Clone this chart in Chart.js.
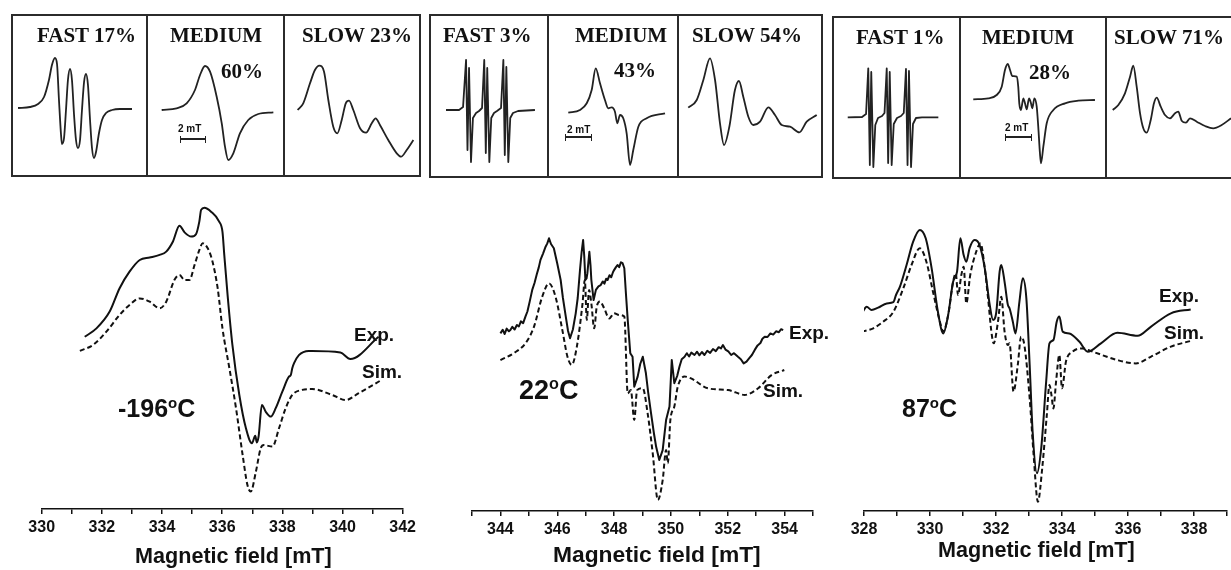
<!DOCTYPE html>
<html><head><meta charset="utf-8">
<script src="https://cdn.jsdelivr.net/npm/chart.js@4.4.1/dist/chart.umd.min.js"></script>
<style>
html,body{margin:0;padding:0;background:#fff;}
#wrap{position:relative;width:1231px;height:570px;overflow:hidden;background:#fff;}
canvas{position:absolute;}
.t{position:absolute;white-space:nowrap;color:#111;}
.serif{font-family:'Liberation Serif','Times New Roman',serif;font-weight:bold;font-size:21px;}
.sans{font-family:'Liberation Sans',Arial,sans-serif;font-weight:bold;}
.box{position:absolute;border:2px solid #2b2b2b;box-sizing:border-box;}
.vdiv{position:absolute;width:2px;background:#2b2b2b;}
.bar{position:absolute;height:7px;box-sizing:border-box;border-left:1.5px solid #222;border-right:1.5px solid #222;}
.bar::after{content:"";position:absolute;left:0;right:0;top:2.5px;height:1.6px;background:#222;}
sup{font-size:0.6em;vertical-align:0;position:relative;top:-0.6em;}
</style>
</head>
<body>
<div id="wrap"></div>
<script>
// ---------------- DATA ----------------
// main panels: [field (mT), intensity (a.u.)]
const axisMin = [330, 343, 328];
const axisMax = [342, 355, 339];
const axisTitle = 'Magnetic field [mT]';
const tempLabels = ['-196', '22', '87'];

const exp196 = [[331.43,57.4],[331.82,60.2],[332.26,65.8],[332.59,73.6],[332.92,79.1],[333.26,83.0],[333.59,83.8],[333.92,84.7],[334.14,85.8],[334.36,89.1],[334.58,94.4],[334.75,92.2],[334.97,90.8],[335.13,91.6],[335.24,95.8],[335.30,99.7],[335.41,100.4],[335.63,99.1],[335.90,95.8],[336.01,92.4],[336.07,84.7],[336.18,71.3],[336.34,54.7],[336.57,38.0],[336.79,26.9],[336.99,21.9],[337.10,24.4],[337.15,22.2],[337.21,24.1],[337.32,34.7],[337.45,32.4],[337.62,30.8],[337.78,33.6],[338.00,39.1],[338.22,44.1],[338.28,44.6],[338.33,46.9],[338.39,48.6],[338.55,51.3],[338.88,52.7],[338.99,52.7],[339.93,52.2],[340.26,50.0],[341.20,57.4]];
const sim196 = [[331.27,52.7],[331.71,54.7],[332.15,59.1],[332.59,64.7],[332.92,68.0],[333.26,70.2],[333.59,69.1],[333.92,66.9],[334.14,69.1],[334.41,76.3],[334.58,78.0],[334.75,76.3],[334.91,76.3],[335.08,81.3],[335.24,86.3],[335.35,88.6],[335.52,86.9],[335.68,82.4],[335.85,73.6],[336.01,60.2],[336.24,46.9],[336.46,33.6],[336.68,18.0],[336.84,8.0],[336.95,5.8],[337.12,12.4],[337.28,20.2],[337.39,21.3],[337.67,20.8],[337.89,26.9],[338.11,33.6],[338.33,38.0],[338.66,39.7],[338.99,40.0],[339.66,38.0],[340.10,36.3],[340.54,38.6],[341.26,42.8]];

const exp22 = [[344.00,59.2],[344.08,60.4],[344.15,59.0],[344.22,60.8],[344.30,59.9],[344.35,60.3],[344.42,61.4],[344.50,60.5],[344.58,62.0],[344.65,61.5],[344.72,63.2],[344.80,62.6],[344.88,64.8],[344.95,66.5],[345.03,69.8],[345.12,73.7],[345.20,76.0],[345.28,78.9],[345.35,81.2],[345.41,83.7],[345.50,85.8],[345.59,88.1],[345.65,89.2],[345.71,90.9],[345.78,89.0],[345.88,87.6],[346.00,82.5],[346.12,77.0],[346.20,71.0],[346.30,64.8],[346.38,60.0],[346.45,57.6],[346.55,60.5],[346.65,65.9],[346.72,71.0],[346.80,80.3],[346.86,86.5],[346.91,90.3],[346.95,85.0],[346.99,77.0],[347.03,77.5],[347.06,79.2],[347.13,86.4],[347.17,82.0],[347.20,77.0],[347.28,70.3],[347.36,73.7],[347.45,74.9],[347.53,75.3],[347.60,76.5],[347.66,75.8],[347.72,77.4],[347.77,77.0],[347.84,78.6],[347.90,77.9],[347.96,79.6],[348.00,80.3],[348.06,81.2],[348.12,82.0],[348.18,81.3],[348.24,82.9],[348.30,82.6],[348.36,80.9],[348.42,72.0],[348.48,63.7],[348.57,52.6],[348.65,51.4],[348.71,41.4],[348.83,44.8],[348.92,49.0],[349.01,51.4],[349.12,45.9],[349.20,39.5],[349.30,32.6],[349.40,26.0],[349.48,21.4],[349.59,17.0],[349.71,20.3],[349.83,30.3],[349.95,34.8],[350.03,50.3],[350.12,42.6],[350.22,45.0],[350.30,48.1],[350.38,50.6],[350.48,51.4],[350.56,52.6],[350.64,51.5],[350.72,52.8],[350.83,52.0],[350.92,53.1],[351.00,51.9],[351.09,53.0],[351.18,52.0],[351.28,53.4],[351.38,52.7],[351.48,54.0],[351.58,53.3],[351.68,54.6],[351.76,54.2],[351.83,55.3],[351.92,53.8],[352.02,53.2],[352.12,52.0],[352.22,52.6],[352.36,51.4],[352.46,50.6],[352.56,49.2],[352.66,49.8],[352.75,50.9],[352.85,52.0],[352.95,53.7],[353.05,55.2],[353.15,56.0],[353.22,57.4],[353.30,58.1],[353.40,58.0],[353.50,59.2],[353.60,58.8],[353.70,59.9],[353.80,59.6],[353.88,60.6],[353.95,60.3]];
const sim22 = [[344.00,50.3],[344.47,52.6],[344.88,55.9],[345.18,61.4],[345.47,71.4],[345.71,75.9],[345.94,71.4],[346.18,60.3],[346.36,51.4],[346.51,48.7],[346.69,54.8],[346.89,69.2],[346.97,77.0],[347.04,63.7],[347.12,73.7],[347.20,69.2],[347.30,60.9],[347.39,68.1],[347.51,69.8],[347.65,67.6],[347.83,64.2],[348.00,65.9],[348.18,65.3],[348.36,64.8],[348.48,39.2],[348.59,40.3],[348.71,30.3],[348.81,40.3],[349.01,40.9],[349.18,32.6],[349.36,19.2],[349.54,3.7],[349.71,10.3],[349.83,20.3],[349.89,15.9],[349.98,30.3],[350.12,34.8],[350.24,41.4],[350.48,44.8],[350.71,44.2],[351.30,40.9],[352.01,40.3],[352.60,38.7],[353.07,40.9],[353.54,45.3],[353.99,47.0]];

const exp87 = [[327.96,66.4],[328.08,68.1],[328.23,67.0],[328.43,67.8],[328.69,69.2],[328.89,69.6],[328.97,72.0],[329.09,74.8],[329.29,82.0],[329.49,89.8],[329.69,93.7],[329.87,90.9],[330.05,80.9],[330.24,66.4],[330.40,59.2],[330.55,65.3],[330.70,76.4],[330.82,79.8],[330.92,90.9],[331.02,85.3],[331.10,83.1],[331.20,87.6],[331.35,90.3],[331.50,88.7],[331.66,80.9],[331.81,68.7],[331.91,63.7],[332.01,66.4],[332.11,79.8],[332.16,82.0],[332.26,76.4],[332.36,68.7],[332.41,67.6],[332.51,63.1],[332.59,59.2],[332.71,69.8],[332.81,77.6],[332.92,70.9],[333.02,48.7],[333.11,26.4],[333.24,12.6],[333.37,20.9],[333.52,43.1],[333.62,55.9],[333.74,57.0],[333.84,63.1],[333.92,64.8],[334.02,59.8],[334.22,59.2],[334.53,56.4],[334.78,53.1],[335.18,55.9],[335.68,59.4],[336.29,58.4],[336.69,61.4],[337.30,65.9],[337.90,67.2]];
const sim87 = [[327.93,59.8],[328.28,60.9],[328.58,63.1],[328.89,66.4],[329.19,74.2],[329.44,82.0],[329.69,87.6],[329.89,83.1],[330.09,73.1],[330.30,63.1],[330.40,59.8],[330.55,65.3],[330.70,76.4],[330.78,79.2],[330.85,72.0],[330.95,78.7],[331.02,81.4],[331.10,69.2],[331.22,78.7],[331.40,86.4],[331.53,89.2],[331.66,80.9],[331.76,70.9],[331.86,59.8],[331.93,55.9],[332.06,63.1],[332.16,71.4],[332.26,59.8],[332.36,55.3],[332.41,55.9],[332.53,39.8],[332.66,48.7],[332.76,58.1],[332.86,55.3],[333.02,37.6],[333.14,18.7],[333.27,3.1],[333.40,14.2],[333.54,32.0],[333.62,42.0],[333.68,38.7],[333.74,34.2],[333.82,43.1],[333.92,52.0],[334.00,40.9],[334.12,49.8],[334.32,53.1],[334.63,54.2],[334.88,53.3],[335.68,50.3],[336.24,49.2],[336.69,51.4],[337.30,54.8],[337.90,56.7]];

// insets: [relative field (mT), intensity (a.u.)]
const fast17 = [[0.54,0.2],[1.46,0.3],[2.08,0.6],[2.54,1.3],[2.92,3.0],[3.15,4.5],[3.38,5.2],[3.54,4.6],[3.69,1.0],[3.85,-2.5],[3.92,-3.4],[4.08,-2.8],[4.23,0],[4.38,3.0],[4.54,4.1],[4.69,3.0],[4.85,-0.5],[5.0,-3.0],[5.15,-3.8],[5.31,-3.0],[5.46,0],[5.62,2.8],[5.77,3.6],[5.92,2.5],[6.08,-1.0],[6.23,-3.8],[6.38,-4.8],[6.54,-4.2],[6.77,-2.3],[7.0,-1.0],[7.31,-0.3],[7.77,0],[8.38,0.1],[9.31,0.1]];
const medium60 = [[1.13,0],[2.28,0.17],[3.05,0.67],[3.69,2.0],[4.08,3.5],[4.46,4.4],[4.85,3.83],[5.36,1.33],[5.75,-1.33],[6.0,-3.67],[6.25,-5.0],[6.64,-4.33],[7.15,-2.33],[7.79,-1.0],[8.56,-0.4],[9.72,-0.23]];
const slow23 = [[1.05,0],[1.48,0.67],[2.0,2.67],[2.38,4.0],[2.72,4.43],[3.08,3.83],[3.41,1.0],[3.79,-1.67],[4.10,-2.33],[4.44,-1.0],[4.75,0.67],[5.0,0.93],[5.33,0],[5.85,-1.83],[6.31,-2.27],[6.75,-1.33],[7.05,-0.83],[7.38,-1.5],[8.02,-3.0],[8.67,-4.33],[9.0,-4.67],[9.44,-4.0],[9.95,-3.0]];
const fast3 = [[1.31,0],[2.31,0],[2.62,0.3],[2.85,5.0],[2.96,-4.0],[3.08,4.2],[3.23,-5.2],[3.38,-0.8],[3.62,-0.3],[3.85,-0.1],[4.08,0.2],[4.25,5.0],[4.37,-4.3],[4.48,4.2],[4.64,-5.2],[4.79,-0.8],[5.0,-0.3],[5.23,-0.1],[5.54,0.2],[5.72,5.0],[5.83,-4.5],[5.95,4.3],[6.10,-5.2],[6.25,-0.8],[6.46,-0.3],[6.85,-0.1],[8.15,0]];
const medium43 = [[1.56,-0.27],[2.46,0],[2.98,0.67],[3.36,2.0],[3.67,4.17],[4.0,2.67],[4.38,1.0],[4.64,0.17],[4.90,0.27],[5.15,-0.17],[5.33,-1.33],[5.54,-0.5],[5.79,-0.83],[6.05,-2.33],[6.31,-5.5],[6.56,-4.0],[6.95,-1.67],[7.59,-0.83],[9.0,-0.33]];
const slow54 = [[0.79,0.23],[1.44,1.0],[1.95,3.0],[2.46,5.17],[2.85,3.0],[3.23,-1.33],[3.54,-3.5],[3.95,-1.67],[4.38,2.0],[4.69,2.9],[5.02,1.33],[5.41,-0.67],[5.79,-1.5],[6.31,-1.17],[6.95,0.27],[7.46,-0.5],[7.98,-1.5],[8.62,-1.67],[9.33,-2.23],[9.90,-1.17],[10.67,-0.5]];
const fast1 = [[1.21,-0.73],[2.31,-0.7],[2.62,-0.4],[2.79,4.17],[2.91,-5.5],[3.02,3.8],[3.18,-5.7],[3.33,-1.5],[3.54,-0.8],[3.85,-0.6],[4.04,-0.3],[4.21,4.15],[4.32,-5.3],[4.44,3.8],[4.59,-5.5],[4.75,-1.4],[5.0,-0.8],[5.31,-0.6],[5.52,-0.3],[5.69,4.1],[5.81,-5.5],[5.92,3.9],[6.08,-5.7],[6.23,-1.4],[6.46,-0.8],[6.92,-0.73],[8.18,-0.73]];
const medium28 = [[1.02,1.07],[2.18,1.17],[2.82,1.5],[3.21,2.33],[3.46,4.0],[3.67,4.6],[3.85,4.0],[4.02,3.4],[4.36,3.33],[4.48,2.33],[4.56,0.67],[4.69,0],[4.87,1.17],[5.0,0.67],[5.13,0.07],[5.31,1.17],[5.46,0.67],[5.56,0.17],[5.72,1.17],[5.90,0.33],[6.02,-1.67],[6.15,-4.33],[6.23,-5.33],[6.41,-3.67],[6.67,-1.33],[7.18,0],[8.08,0.67],[9.10,0.93],[10.38,1.0]];
const slow71 = [[0.52,0],[0.95,0.5],[1.46,1.67],[1.85,3.33],[2.10,4.43],[2.36,2.33],[2.62,-0.33],[2.87,-1.83],[3.13,-2.27],[3.44,-1.0],[3.69,0.67],[3.90,1.23],[4.21,0.33],[4.54,-0.5],[4.92,-0.83],[5.31,-0.33],[5.56,-0.17],[5.82,-1.07],[6.15,-1.27],[6.46,-0.83],[6.98,-1.17],[7.62,-1.6],[8.25,-1.83],[8.90,-1.5],[9.62,-0.83]];

const insetTitles = ['FAST 17%','MEDIUM','SLOW 23%','FAST 3%','MEDIUM','SLOW 54%','FAST 1%','MEDIUM','SLOW 71%'];
const mediumPct = ['60%','43%','28%'];
const scaleBarText = '2 mT';

// ---------------- LAYOUT ----------------
const wrap = document.getElementById('wrap');
function makeCanvas(left, top, w, h){
  const c = document.createElement('canvas');
  c.width = w; c.height = h;
  c.style.left = left+'px'; c.style.top = top+'px';
  c.style.width = w+'px'; c.style.height = h+'px';
  wrap.appendChild(c);
  return c;
}
function addText(html, left, cy, cls, size){
  const d = document.createElement('div');
  d.className = 't ' + cls;
  if (size) d.style.fontSize = size+'px';
  const lh = 30;
  d.style.lineHeight = lh+'px';
  d.style.left = left+'px';
  d.style.top = (cy - lh/2)+'px';
  d.innerHTML = html;
  wrap.appendChild(d);
}
const ink = '#111';

// narrow tick font when available (tick digits in the reference are tall and narrow)
function hasFont(name){
  const ctx = document.createElement('canvas').getContext('2d');
  ctx.font = 'bold 40px monospace';
  const a = ctx.measureText('330 332 Mm').width;
  ctx.font = 'bold 40px "' + name + '", monospace';
  const b = ctx.measureText('330 332 Mm').width;
  return Math.abs(a - b) > 1;
}
const narrow = hasFont('Liberation Sans Narrow');
const tickFont = narrow
  ? {family:"'Liberation Sans Narrow', 'Liberation Sans', Arial, sans-serif", weight:'bold', size:19.5}
  : {family:"'Liberation Sans', Arial, sans-serif", weight:'bold', size:16};
const tickPad = narrow ? 3 : 4;

function mainChart(left, width, exp, sim, min, max, yMax, axisH, padL, padR, expSmooth){
  const c = makeCanvas(left, 190, width, 380);
  new Chart(c, {
    type:'line',
    data:{datasets:[
      {data:exp.map(p=>({x:p[0],y:p[1]})), borderColor:ink, borderWidth:2, pointRadius:0, fill:false,
       cubicInterpolationMode: expSmooth ? 'monotone' : 'default', tension:0, borderJoinStyle:'round'},
      {data:sim.map(p=>({x:p[0],y:p[1]})), borderColor:ink, borderWidth:2, borderDash:[5,3], pointRadius:0, fill:false,
       cubicInterpolationMode:'monotone', borderJoinStyle:'round'}
    ]},
    options:{
      responsive:false, animation:false, devicePixelRatio:1,
      layout:{padding:{left:padL, right:padR, top:0, bottom:0}},
      plugins:{legend:{display:false}, tooltip:{enabled:false}},
      scales:{
        x:{type:'linear', min:min, max:max,
           afterFit:(s)=>{ s.height = axisH; },
           ticks:{stepSize:1, autoSkip:false, maxRotation:0, padding:tickPad, color:ink, font:tickFont,
                  callback:(v)=> (Math.round(v)%2===0 ? String(Math.round(v)) : '')},
           grid:{drawOnChartArea:false, drawTicks:true, tickLength:5, color:ink, lineWidth:1.5},
           border:{display:true, color:ink, width:1.5}},
        y:{display:false, min:0, max:yMax}
      }
    }
  });
}

mainChart(0, 420, exp196, sim196, axisMin[0], axisMax[0], 106.33, 61, 41.7, 15.7, true);
mainChart(430, 400, exp22, sim22, axisMin[1], axisMax[1], 107, 59, 42, 17, false);
mainChart(840, 391, exp87, sim87, axisMin[2], axisMax[2], 107, 59, 24, 3, true);

// axis titles
addText(axisTitle, 135, 556, 'sans', 21.6);
addText(axisTitle, 553, 554, 'sans', 22.8);
addText(axisTitle, 938, 550, 'sans', 21.6);
// temperatures
addText(tempLabels[0]+'<sup>o</sup>C', 118, 408, 'sans', 25);
addText(tempLabels[1]+'<sup>o</sup>C', 519, 390, 'sans', 27);
addText(tempLabels[2]+'<sup>o</sup>C', 902, 408, 'sans', 25);
// Exp / Sim
addText('Exp.', 354, 335, 'sans', 19); addText('Sim.', 362, 372, 'sans', 19);
addText('Exp.', 789, 333, 'sans', 19); addText('Sim.', 763, 391, 'sans', 19);
addText('Exp.', 1159, 296, 'sans', 19); addText('Sim.', 1164, 333, 'sans', 19);

// insets
const slots = [[11,147],[147,284],[284,420],[429,548],[548,678],[678,822],[832,960],[960,1106],[1106,1231]];
const insetData = [fast17, medium60, slow23, fast3, medium43, slow54, fast1, medium28, slow71];
insetData.forEach((pts, i)=>{
  const [l, r] = slots[i];
  const w = r - l;
  const c = makeCanvas(l, 50, w, 126);
  const sharp = (i === 3 || i === 6);
  new Chart(c, {
    type:'line',
    data:{datasets:[{data:pts.map(p=>({x:p[0],y:p[1]})), borderColor:'#222', borderWidth:1.8, pointRadius:0, fill:false,
      cubicInterpolationMode: sharp ? 'default' : 'monotone', tension:0, borderJoinStyle:'round'}]},
    options:{responsive:false, animation:false, devicePixelRatio:1, layout:{padding:0},
      plugins:{legend:{display:false}, tooltip:{enabled:false}},
      scales:{x:{type:'linear', display:false, min:0, max:w/13}, y:{display:false, min:-6.6, max:6.0}}}
  });
});

// boxes
function box(l, t, r, b, divs){
  const d = document.createElement('div');
  d.className = 'box';
  d.style.left = l+'px'; d.style.top = t+'px';
  d.style.width = (r-l)+'px'; d.style.height = (b-t)+'px';
  wrap.appendChild(d);
  divs.forEach(x=>{
    const v = document.createElement('div');
    v.className = 'vdiv';
    v.style.left = (x-1)+'px'; v.style.top = t+'px'; v.style.height = (b-t)+'px';
    wrap.appendChild(v);
  });
}
box(11, 14, 421, 177, [147, 284]);
box(429, 14, 823, 178, [548, 678]);
box(832, 16, 1245, 179, [960, 1106]);

// inset titles
const titlePos = [[37,35],[170,35],[302,35],[443,35],[575,35],[692,35],[856,37],[982,37],[1114,37]];
insetTitles.forEach((t,i)=> addText(t, titlePos[i][0], titlePos[i][1], 'serif'));
addText(mediumPct[0], 221, 71, 'serif');
addText(mediumPct[1], 614, 70, 'serif');
addText(mediumPct[2], 1029, 72, 'serif');

// scale bars
function scaleBar(l, w, y, tl, ty){
  const b = document.createElement('div');
  b.className = 'bar';
  b.style.left = l+'px'; b.style.width = w+'px'; b.style.top = (y-3.5)+'px';
  wrap.appendChild(b);
  addText(scaleBarText, tl, ty, 'sans', 10);
}
scaleBar(180, 26, 139, 178, 129);
scaleBar(565, 27, 137, 567, 130);
scaleBar(1005, 27, 137, 1005, 128);
</script>
</body></html>
